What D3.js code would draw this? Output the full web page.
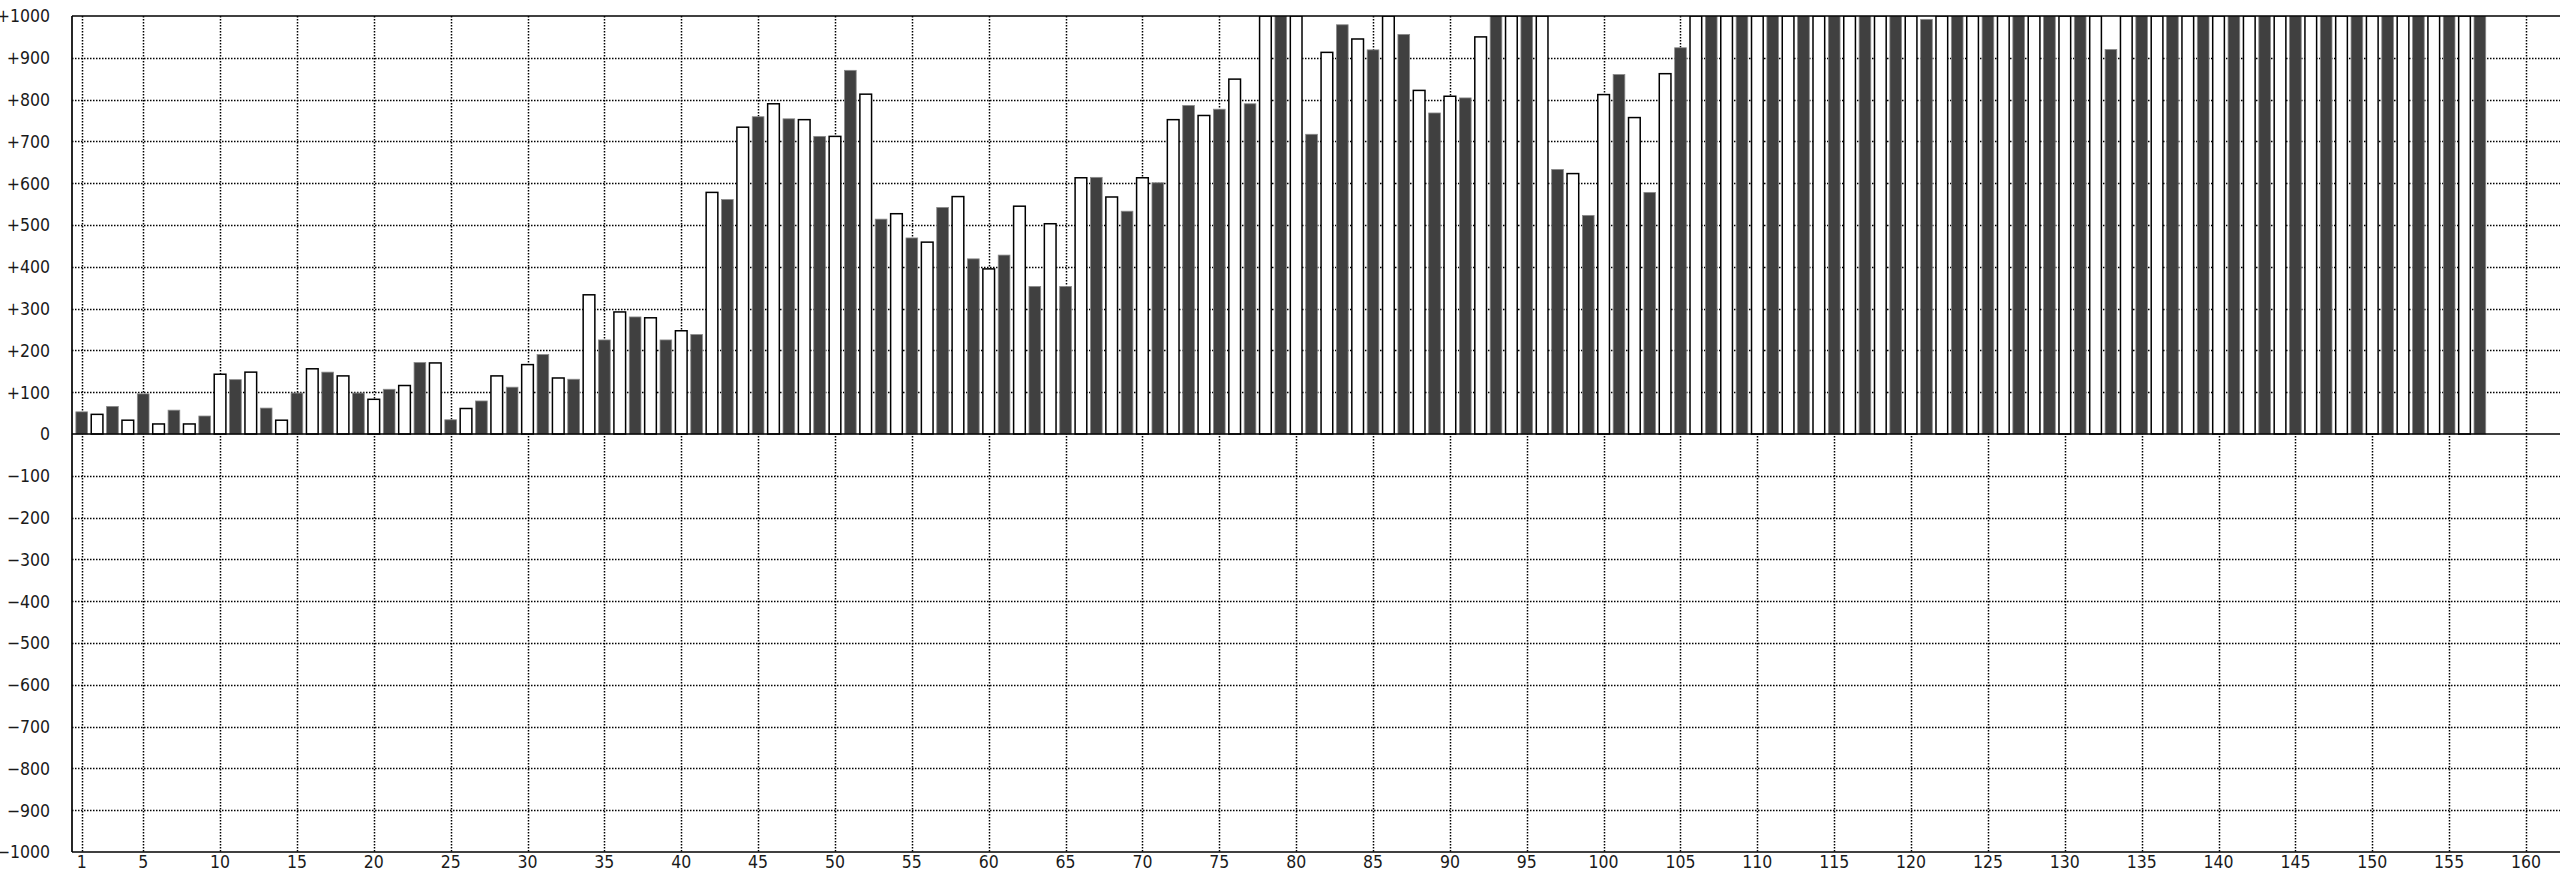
<!DOCTYPE html>
<html><head><meta charset="utf-8">
<script src="https://cdn.jsdelivr.net/npm/d3@7/dist/d3.min.js"></script>
<style>html,body{margin:0;padding:0;background:#fff;overflow:hidden}</style>
</head><body>
<svg id="chart" width="2560" height="873"></svg>
<script>
// Bar values, bars numbered 1..157 (odd = dark, even = white).
// Bars that run off the top of the axis are entered as 1000 (value not readable).
const values = [
  53, 47, 66, 33, 96, 24, 57, 24, 43,143,   // 1-10
 130,148, 62, 33, 98,156,148,139, 98, 83,   // 11-20
 107,116,171,170, 34, 61, 79,139,112,166,   // 21-30
 190,134,131,333,225,292,280,278,225,247,   // 31-40
 238,578,561,734,759,790,754,752,712,712,   // 41-50
 870,813,514,527,469,459,542,568,419,395,   // 51-60
 428,545,353,503,353,613,614,567,533,613,   // 61-70
 601,752,786,762,777,849,790,1000,1000,1000,// 71-80
 717,913,979,945,919,1000,956,822,768,808,  // 81-90
 804,950,1000,1000,1000,1000,633,623,523,812,// 91-100
 860,757,578,862,924,1000,1000,1000,1000,1000,// 101-110
 1000,1000,1000,1000,1000,1000,1000,1000,1000,1000,// 111-120
 992,1000,1000,1000,1000,1000,1000,1000,1000,1000,// 121-130
 1000,1000,920,1000,1000,1000,1000,1000,1000,1000,// 131-140
 1000,1000,1000,1000,1000,1000,1000,1000,1000,1000,// 141-150
 1000,1000,1000,1000,1000,1000,1000         // 151-157
];
const categories = values.map((v, i) => i + 1);
const xTickValues = [1,5,10,15,20,25,30,35,40,45,50,55,60,65,70,75,80,85,90,95,100,
  105,110,115,120,125,130,135,140,145,150,155,160];
const yTickValues = [1000,900,800,700,600,500,400,300,200,100,0,-100,-200,-300,-400,-500,-600,-700,-800,-900,-1000];

(function () {
const W = 2560;
const pL = 72, pT = 16, pB = 852, pR = 2600;
const svg = d3.select('#chart');

const x = d3.scaleLinear().domain([1, 160]).range([81.7, 2526]);
const y = d3.scaleLinear().domain([-1000, 1000]).range([pB, pT]);
const step = x(2) - x(1);
const bw = step * 0.76;
const px = v => Math.round(v) + 0.5;

const fmt = v => v > 0 ? '+' + v : (v < 0 ? '\u2212' + Math.abs(v) : '0');
const FONT = '"DejaVu Sans Condensed", "DejaVu Sans", sans-serif';

// grid
const grid = svg.append('g');
grid.selectAll('line.h').data(yTickValues.filter(v => Math.abs(v) < 1000 && v !== 0)).join('line')
  .attr('class', 'h')
  .attr('x1', pL).attr('x2', W).attr('y1', d => px(y(d))).attr('y2', d => px(y(d)))
  .attr('stroke', '#000').attr('stroke-width', 1.5).attr('stroke-dasharray', '1.5,1.5');
grid.selectAll('line.v').data(xTickValues).join('line')
  .attr('class', 'v')
  .attr('y1', pT).attr('y2', pB).attr('x1', d => px(x(d))).attr('x2', d => px(x(d)))
  .attr('stroke', '#000').attr('stroke-width', 1.5).attr('stroke-dasharray', '1.5,1.5');

// clip
svg.append('clipPath').attr('id', 'plotclip').append('rect')
  .attr('x', pL).attr('y', pT).attr('width', pR - pL).attr('height', pB - pT);

const bars = svg.append('g').attr('clip-path', 'url(#plotclip)');
bars.selectAll('rect').data(values).join('rect')
  .attr('x', (d, i) => x(categories[i]) - bw / 2)
  .attr('y', d => y(Math.max(0, d)))
  .attr('width', bw)
  .attr('height', d => Math.abs(y(d) - y(0)))
  .attr('fill', (d, i) => categories[i] % 2 === 1 ? '#404040' : '#ffffff')
  .attr('stroke', (d, i) => categories[i] % 2 === 1 ? '#8a8a8a' : '#000')
  .attr('stroke-width', (d, i) => categories[i] % 2 === 1 ? 0.8 : 1.5);

// zero line and frame
const solid = (x1, y1, x2, y2) => svg.append('line')
  .attr('x1', x1).attr('y1', y1).attr('x2', x2).attr('y2', y2)
  .attr('stroke', '#000').attr('stroke-width', 1.7);
solid(pL, y(0), W, y(0));
solid(pL, pT, W, pT);
solid(pL, pB, W, pB);
solid(pL, pT, pL, pB);

// y labels
svg.append('g').selectAll('text').data(yTickValues).join('text')
  .attr('x', 50).attr('y', d => y(d)).attr('dy', '0.36em')
  .attr('text-anchor', 'end').attr('font-family', FONT).attr('font-size', 17.5)
  .attr('fill', '#1a1a1a').text(fmt);

// x labels
svg.append('g').selectAll('text').data(xTickValues).join('text')
  .attr('x', d => x(d)).attr('y', 868)
  .attr('text-anchor', 'middle').attr('font-family', FONT).attr('font-size', 17.5)
  .attr('fill', '#1a1a1a').text(d => d);
})();
</script>
</body></html>
